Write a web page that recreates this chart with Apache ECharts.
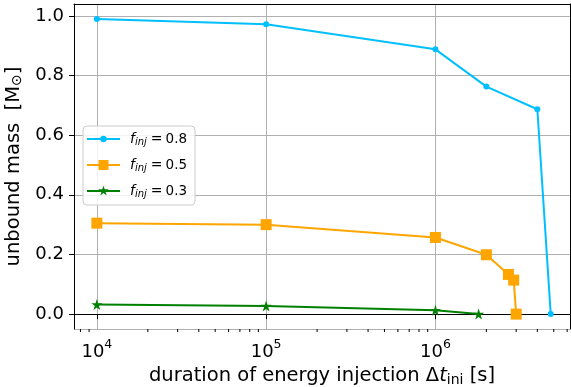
<!DOCTYPE html>
<html>
<head>
<meta charset="utf-8">
<script src="https://cdn.jsdelivr.net/npm/echarts@6/dist/echarts.min.js"></script>
<style>html,body{margin:0;padding:0;background:#fff}#c{width:571px;height:387px}</style>
</head>
<body>
<div id="c"></div>
<script>
// ---- data ----
const times08 = [1e4, 1e5, 1e6, 2e6, 4e6, 4.8e6];
const mass08  = [0.990, 0.972, 0.888, 0.763, 0.687, 0.0];
const times05 = [1e4, 1e5, 1e6, 2e6, 2.7e6, 2.9e6, 3.0e6];
const mass05  = [0.305, 0.300, 0.257, 0.199, 0.133, 0.114, 0.0];
const times03 = [1e4, 1e5, 1e6, 1.8e6];
const mass03  = [0.032, 0.027, 0.013, 0.0];
const seriesNames = ['0.8', '0.5', '0.3'];
const yTickLabels = ['0.0', '0.2', '0.4', '0.6', '0.8', '1.0'];

const xMin = Math.pow(10, 3.865), xMax = Math.pow(10, 6.795);
const yMin = -0.05, yMax = 1.04;
const FONT = 'DejaVu Sans';

const minorTicks = [];
for (let d = 3; d <= 6; d++) for (let k = 2; k <= 9; k++) {
  const v = k * Math.pow(10, d);
  if (v > xMin && v < xMax) minorTicks.push([v, yMin]);
}
const zip = (a, b) => a.map((v, i) => [v, b[i]]);
const star = 'path://M50,0 L61.8,35.4 L100,35.4 L69.1,57.3 L80.9,92.7 L50,70.8 L19.1,92.7 L30.9,57.3 L0,35.4 L38.2,35.4 Z';

// legend icons: line + marker (33 x 14 box)
const frame = 'M0,0 L0.01,0 L0,0.01 Z M33,14 L32.99,14 L33,13.99 Z ';
const lineBar = 'M0,6 L33,6 L33,8 L0,8 Z ';
const iconCircle = 'path://' + frame + lineBar + 'M13.3,7 A3.2,3.2 0 1,1 19.7,7 A3.2,3.2 0 1,1 13.3,7 Z';
const iconSquare = 'path://' + frame + lineBar + 'M11.5,2 L21.5,2 L21.5,12 L11.5,12 Z';
const iconStar = 'path://' + frame + lineBar + 'M16.5,1.8 L17.73,5.3 L21.73,5.3 L18.5,7.65 L19.73,11.45 L16.5,9.1 L13.27,11.45 L14.5,7.65 L11.27,5.3 L15.27,5.3 Z';

const chart = echarts.init(document.getElementById('c'), null, {renderer: 'canvas'});
chart.setOption({
  animation: false,
  textStyle: {fontFamily: FONT},
  grid: {left: 74, top: 4, right: 1, bottom: 58, show: false, containLabel: false, outerBoundsMode: 'none'},
  legend: {
    left: 83, top: 126, orient: 'vertical',
    data: [{name: 'f08', icon: iconCircle}, {name: 'f05', icon: iconSquare}, {name: 'f03', icon: iconStar}],
    itemWidth: 33, itemHeight: 14, itemGap: 11,
    padding: [6, 8, 6, 4],
    backgroundColor: 'rgba(255,255,255,0.85)',
    borderColor: '#cccccc', borderWidth: 1, borderRadius: 4,
    formatter: function (n) {
      const idx = ['f08', 'f05', 'f03'].indexOf(n);
      return '{i|f}{s|inj}{e|=}{t|' + seriesNames[idx] + '}';
    },
    textStyle: {
      fontFamily: FONT, fontSize: 14, color: '#000',
      rich: {
        i: {fontFamily: FONT, fontStyle: 'italic', fontSize: 14, lineHeight: 16, padding: [0, 0, 0, 5]},
        s: {fontFamily: FONT, fontStyle: 'italic', fontSize: 10, lineHeight: 10, verticalAlign: 'bottom'},
        e: {fontFamily: FONT, fontSize: 14, lineHeight: 16, padding: [0, 3, 0, 4]},
        t: {fontFamily: FONT, fontSize: 13.5, lineHeight: 16}
      }
    }
  },
  xAxis: [{
    type: 'log', logBase: 10, min: xMin, max: xMax,
    name: 'duration of energy injection Δ{it|t}{sub|ini} [s]',
    nameLocation: 'middle', nameGap: 27,
    nameTextStyle: {
      fontFamily: FONT, fontSize: 19.5, color: '#000',
      rich: {
        it: {fontFamily: FONT, fontSize: 19.5, fontStyle: 'italic'},
        sub: {fontFamily: FONT, fontSize: 14, padding: [8, 0, 0, 0]}
      }
    },
    axisLine: {show: true, lineStyle: {color: '#000', width: 1}},
    axisTick: {show: true, length: 5, inside: false, lineStyle: {color: '#000'}},
    splitLine: {show: true, lineStyle: {color: '#b0b0b0', width: 1}},
    axisLabel: {
      margin: 6, showMinLabel: false, showMaxLabel: false,
      formatter: function (v) {
        const e = Math.log10(v);
        if (Math.abs(e - Math.round(e)) > 1e-6) return '';
        return '{b|10}{s|' + Math.round(e) + '}';
      },
      rich: {
        b: {fontFamily: FONT, fontSize: 18, color: '#000', padding: [8, 0, 0, 0]},
        s: {fontFamily: FONT, fontSize: 12.5, color: '#000', padding: [0, 0, 6, 0]}
      }
    }
  }, {
    type: 'value', position: 'top', min: 0, max: 1, z: 10,
    axisLine: {show: true, onZero: false, lineStyle: {color: '#000', width: 1}},
    axisTick: {show: false}, axisLabel: {show: false}, splitLine: {show: false}
  }],
  yAxis: [{
    type: 'value', min: yMin, max: yMax,
    name: 'unbound mass  [M{sub|⊙}]',
    nameLocation: 'middle', nameGap: 41, nameRotate: 90,
    nameTextStyle: {
      fontFamily: FONT, fontSize: 19.5, color: '#000',
      rich: {sub: {fontFamily: FONT, fontSize: 14, padding: [8, 0, 0, 0]}}
    },
    axisLine: {show: true, lineStyle: {color: '#000', width: 1}},
    axisTick: {show: true, length: 5, lineStyle: {color: '#000'}},
    splitLine: {show: true, lineStyle: {color: '#b0b0b0', width: 1}},
    axisLabel: {
      margin: 10, showMinLabel: false, showMaxLabel: false,
      fontFamily: FONT, fontSize: 18, color: '#000',
      formatter: function (v) {
        const i = Math.round(v / 0.2);
        if (Math.abs(v - i * 0.2) > 1e-6) return '';
        return yTickLabels[i] || '';
      }
    }
  }, {
    type: 'value', position: 'right', min: 0, max: 1, z: 10,
    axisLine: {show: true, onZero: false, lineStyle: {color: '#000', width: 1}},
    axisTick: {show: false}, axisLabel: {show: false}, splitLine: {show: false}
  }],
  series: [{
    name: 'f08', type: 'line', data: zip(times08, mass08),
    color: '#00bfff', lineStyle: {width: 2}, symbol: 'circle', symbolSize: 6, z: 5
  }, {
    name: 'f05', type: 'line', data: zip(times05, mass05),
    color: '#ffa500', lineStyle: {width: 2}, symbol: 'rect', symbolSize: 11, z: 4
  }, {
    name: 'f03', type: 'line', data: zip(times03, mass03),
    color: '#008000', lineStyle: {width: 2}, symbol: star, symbolSize: 11, z: 3
  }, {
    type: 'custom', silent: true, clip: false, z: 10,
    data: minorTicks,
    renderItem: function (params, api) {
      const p = api.coord([api.value(0), api.value(1)]);
      return {type: 'line', shape: {x1: p[0], y1: p[1], x2: p[0], y2: p[1] + 3},
              style: {stroke: '#000', lineWidth: 1}};
    }
  }]
});
</script>
</body>
</html>
